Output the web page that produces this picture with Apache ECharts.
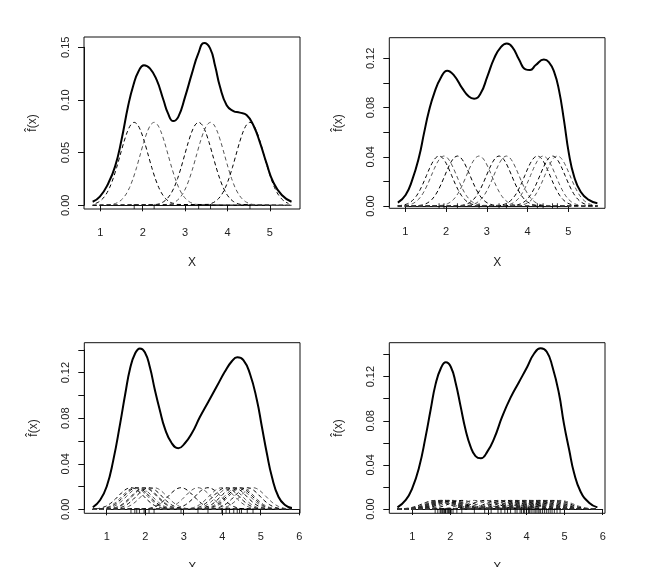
<!DOCTYPE html>
<html><head><meta charset="utf-8">
<script src="https://cdn.jsdelivr.net/npm/echarts@6/dist/echarts.min.js"></script>
<style>html,body{margin:0;padding:0;background:#fff}#c{width:648px;height:567px}</style>
</head><body><div id="c"></div>
<script>
// ---- main density curves: [x, f(x)] ----
const curve1 = [[0.82,0.0034],[0.99,0.0082],[1.19,0.021],[1.35,0.037],[1.50,0.062],[1.66,0.095],[1.78,0.114],[1.90,0.127],[2.03,0.133],[2.17,0.130],[2.33,0.119],[2.49,0.100],[2.60,0.087],[2.72,0.080],[2.84,0.084],[3.00,0.103],[3.16,0.125],[3.31,0.144],[3.45,0.154],[3.59,0.149],[3.71,0.132],[3.82,0.113],[3.98,0.095],[4.14,0.0895],[4.29,0.088],[4.45,0.0857],[4.61,0.076],[4.77,0.059],[4.92,0.040],[5.08,0.022],[5.28,0.0098],[5.51,0.0034]];
const curve2 = [[0.82,0.0027],[1.01,0.0089],[1.17,0.021],[1.34,0.040],[1.46,0.059],[1.58,0.077],[1.71,0.0916],[1.87,0.104],[2.03,0.110],[2.20,0.106],[2.40,0.0956],[2.56,0.0889],[2.69,0.0872],[2.85,0.0916],[3.01,0.105],[3.18,0.120],[3.34,0.129],[3.49,0.132],[3.63,0.129],[3.79,0.119],[3.95,0.111],[4.06,0.1105],[4.20,0.1146],[4.40,0.119],[4.52,0.117],[4.65,0.109],[4.77,0.094],[4.89,0.070],[5.01,0.043],[5.14,0.024],[5.30,0.0116],[5.50,0.0049],[5.71,0.0022]];
const curve3 = [[0.64,0.0018],[0.83,0.0082],[1.00,0.020],[1.17,0.043],[1.35,0.0755],[1.48,0.101],[1.61,0.124],[1.74,0.137],[1.86,0.1413],[1.99,0.138],[2.12,0.125],[2.25,0.105],[2.38,0.087],[2.51,0.071],[2.69,0.058],[2.86,0.0536],[3.03,0.058],[3.21,0.0667],[3.42,0.081],[3.64,0.0945],[3.86,0.108],[4.07,0.121],[4.25,0.130],[4.39,0.1335],[4.55,0.131],[4.72,0.119],[4.90,0.096],[5.03,0.0725],[5.16,0.049],[5.29,0.0286],[5.46,0.011],[5.63,0.0038],[5.81,0.0011]];
const curve4 = [[0.61,0.0015],[0.83,0.0082],[1.00,0.019],[1.18,0.038],[1.35,0.0656],[1.48,0.0898],[1.61,0.113],[1.75,0.1276],[1.88,0.133],[2.01,0.129],[2.14,0.114],[2.27,0.0928],[2.40,0.0716],[2.53,0.0565],[2.66,0.048],[2.80,0.046],[2.97,0.052],[3.15,0.064],[3.36,0.0837],[3.58,0.101],[3.80,0.115],[4.02,0.129],[4.20,0.141],[4.37,0.1457],[4.53,0.1426],[4.68,0.129],[4.85,0.105],[4.98,0.0777],[5.12,0.0535],[5.25,0.0324],[5.42,0.0157],[5.64,0.0057],[5.86,0.0015]];

// ---- sample points (kernel centres / rug) ----
const points1 = [1.80,2.27,3.32,3.60,4.53];
const points2 = [1.83,1.95,2.28,2.81,3.30,3.48,4.24,4.38,4.61,4.73];
const points3 = [1.63,1.73,1.78,1.85,1.97,2.00,2.10,2.23,2.93,3.37,3.63,3.99,4.10,4.19,4.30,4.39,4.45,4.50,4.65,4.80];
const points4 = [1.60,1.67,1.73,1.75,1.78,1.80,1.83,1.85,1.87,1.88,1.92,1.95,1.98,2.02,2.07,2.17,2.30,
                 2.63,2.90,3.07,3.25,3.33,3.43,3.50,3.58,3.70,3.75,3.83,
                 3.87,3.92,3.95,4.00,4.05,4.08,4.12,4.17,4.22,4.25,4.30,4.33,4.37,4.42,4.47,4.52,4.57,4.62,4.67,4.73,4.80,4.88];

// kernel peak heights and spreads
const kernelPeaks = [0.0788, 0.0406, 0.019, 0.0078];
const kernelSpread = [0.33, 0.31, 0.33, 0.33];
// kernel profile (offset in spread units, share of peak)
const kernelOffsets = [-3,-2.75,-2.5,-2.25,-2,-1.75,-1.5,-1.25,-1,-0.75,-0.5,-0.25,0,0.25,0.5,0.75,1,1.25,1.5,1.75,2,2.25,2.5,2.75,3];
const kernelShape   = [0.011,0.023,0.044,0.080,0.135,0.216,0.325,0.458,0.607,0.755,0.882,0.969,1,0.969,0.882,0.755,0.607,0.458,0.325,0.216,0.135,0.080,0.044,0.023,0.011];

// ---- tick labels ----
const xTicks12 = [1,2,3,4,5];
const xTicks34 = [1,2,3,4,5,6];
const yTicks1 = [0.00,0.05,0.10,0.15];
const yTicks2 = [0.00,0.02,0.04,0.06,0.08,0.10,0.12];
const yTicks34 = [0.00,0.02,0.04,0.06,0.08,0.10,0.12,0.14];
const yLabelEvery = [1,2,2,2];
const xTitle = 'X';
const yTitle = 'f\u0302(x)';

// ---- layout (pixels) and axis extents ----
const panels = [
  {curve:curve1, pts:points1, xt:xTicks12, yt:yTicks1,  box:{l:84,  t:37,   r:300, b:209},   x:[0.616,5.71], y:[-0.0035,0.1598]},
  {curve:curve2, pts:points2, xt:xTicks12, yt:yTicks2,  box:{l:389.3,t:37.7, r:605, b:208.3}, x:[0.61,5.897], y:[-0.0019,0.1368]},
  {curve:curve3, pts:points3, xt:xTicks34, yt:yTicks34, box:{l:84.3,t:342.7, r:300, b:513.3}, x:[0.418,6.02], y:[-0.0035,0.1463]},
  {curve:curve4, pts:points4, xt:xTicks34, yt:yTicks34, box:{l:389.3,t:342.7,r:605, b:513.3}, x:[0.396,6.06], y:[-0.0039,0.1508]}
];

const FONT = 'Liberation Sans, Arial, sans-serif';
const grid = [], xAxis = [], yAxis = [], series = [];

panels.forEach((p, i) => {
  const W = p.box.r - p.box.l, H = p.box.b - p.box.t;
  const gm = grid.length;
  grid.push({left:p.box.l, top:p.box.t, width:W, height:H, show:true, borderColor:'#111', borderWidth:1,
             backgroundColor:'transparent', containLabel:false, outerBoundsMode:'none'});
  const xt0 = p.xt[0], xt1 = p.xt[p.xt.length-1];
  const yt0 = p.yt[0], yt1 = p.yt[p.yt.length-1];
  const sl = p.box.l + (xt0 - p.x[0]) / (p.x[1]-p.x[0]) * W;
  const sw = (xt1 - xt0) / (p.x[1]-p.x[0]) * W;
  const st = p.box.t + (p.y[1] - yt1) / (p.y[1]-p.y[0]) * H;
  const sh = (yt1 - yt0) / (p.y[1]-p.y[0]) * H;
  const gs = grid.length;
  grid.push({left:sl, top:st, width:sw, height:sh, show:false, containLabel:false, outerBoundsMode:'none'});

  // main (data) axes: carry only the axis titles
  xAxis.push({gridIndex:gm, type:'value', min:p.x[0], max:p.x[1], axisLine:{show:false}, axisTick:{show:false},
              axisLabel:{show:false}, splitLine:{show:false}, name:xTitle, nameLocation:'middle', nameGap:48,
              nameTextStyle:{fontFamily:FONT, fontSize:12, color:'#222'}});
  yAxis.push({gridIndex:gm, type:'value', min:p.y[0], max:p.y[1], axisLine:{show:false}, axisTick:{show:false},
              axisLabel:{show:false}, splitLine:{show:false}, name:yTitle, nameLocation:'middle', nameGap:45, nameRotate:90,
              nameTextStyle:{fontFamily:FONT, fontSize:12, color:'#222'}});
  // tick axes spanning first..last tick
  const xStep = p.xt[1]-p.xt[0], yStep = p.yt[1]-p.yt[0];
  const every = yLabelEvery[i];
  xAxis.push({gridIndex:gs, type:'value', min:xt0, max:xt1, interval:xStep, position:'bottom',
              offset: p.box.b - (st + sh),
              axisLine:{show:true, lineStyle:{color:'#111', width:1}},
              axisTick:{show:true, length:6, lineStyle:{color:'#111', width:1}},
              axisLabel:{show:true, margin:18, fontFamily:FONT, fontSize:11, color:'#222', formatter:v=>String(Math.round(v))},
              splitLine:{show:false}});
  yAxis.push({gridIndex:gs, type:'value', min:yt0, max:yt1, interval:yStep, position:'left',
              offset: sl - p.box.l,
              axisLine:{show:true, lineStyle:{color:'#111', width:1}},
              axisTick:{show:true, length:6, lineStyle:{color:'#111', width:1}},
              axisLabel:{show:true, rotate:90, margin:13, fontFamily:FONT, fontSize:11, color:'#222',
                         formatter:v=>{const k=Math.round((v-yt0)/yStep); return k%every===0 ? v.toFixed(2) : '';}},
              splitLine:{show:false}});

  // kernels
  const xs = p.curve[0][0], xe = p.curve[p.curve.length-1][0];
  p.pts.forEach((c, k) => {
    const d = [];
    const first = c + kernelOffsets[0]*kernelSpread[i];
    const last = c + kernelOffsets[kernelOffsets.length-1]*kernelSpread[i];
    if (xs < first) d.push([xs, 0]);
    kernelOffsets.forEach((o, j) => {
      const xv = c + o*kernelSpread[i];
      if (xv >= xs && xv <= xe) d.push([xv, kernelShape[j]*kernelPeaks[i]]);
    });
    if (xe > last) d.push([xe, 0]);
    series.push({type:'line', xAxisIndex:gm, yAxisIndex:gm, data:d, smooth:0.3,
                 symbol:'none', silent:true, z:2,
                 lineStyle:{color: k%2===0 ? '#000' : '#555', width:1, type:[4,3]}});
  });
  // main curve
  series.push({type:'line', xAxisIndex:gm, yAxisIndex:gm, data:p.curve, smooth:0.5,
               symbol:'none', silent:true, z:4, lineStyle:{color:'#000', width:2}});
  // rug
  series.push({type:'scatter', xAxisIndex:gm, yAxisIndex:gm, data:p.pts.map(v=>[v, p.y[0]]),
               symbol:'rect', symbolSize:[1,5], symbolOffset:[0,-2.5], clip:false, silent:true, z:5,
               itemStyle:{color:'#000'}});
});

const chart = echarts.init(document.getElementById('c'), null, {renderer:'canvas'});
chart.setOption({animation:false, backgroundColor:'#fff', grid, xAxis, yAxis, series});
</script></body></html>
